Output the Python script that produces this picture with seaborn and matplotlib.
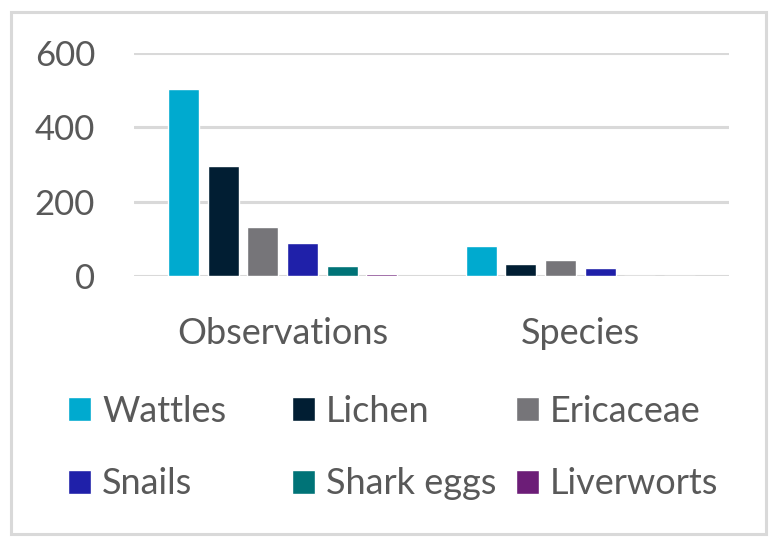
import numpy as np
import pandas as pd
import seaborn as sns
import matplotlib.pyplot as plt
from matplotlib.patches import Patch, Rectangle

categories = ["Observations", "Species"]
groups = ["Wattles", "Lichen", "Ericaceae", "Snails", "Shark eggs", "Liverworts"]
wattles = [502, 80]
lichen = [297, 32]
ericaceae = [131, 44]
snails = [89, 22]
shark_eggs = [28, 0]
liverworts = [5, 0]
yticks = [0, 200, 400, 600]

colors = ["#00AACF", "#011E33", "#767579", "#1F20A9", "#007377", "#6C1D77"]
text_col = "#595959"
grid_col = "#D9D9D9"

df = pd.DataFrame({
    "category": categories * len(groups),
    "group": np.repeat(groups, len(categories)),
    "count": wattles + lichen + ericaceae + snails + shark_eggs + liverworts,
})

sns.set_theme(style="white")
plt.rcParams["font.family"] = ["Lato", "DejaVu Sans"]

W, H = 777, 544
fig = plt.figure(figsize=(W / 100, H / 100), dpi=100)
ax = fig.add_axes([134 / W, 1 - 276.3 / H, 595 / W, 223.6 / H])

sns.barplot(data=df, x="category", y="count", hue="group", hue_order=groups,
            palette=colors, saturation=1, width=0.8, gap=0.22, ax=ax, legend=False)

ax.set_xlim(-0.5, 1.5)
ax.set_ylim(0, 600)
ax.set_yticks(yticks)
ax.set_xlabel("")
ax.set_ylabel("")
ax.yaxis.grid(True, color=grid_col, linewidth=2.2)
ax.set_axisbelow(True)
for s in ax.spines.values():
    s.set_visible(False)
ax.tick_params(axis="y", length=0, pad=28, labelsize=25, labelcolor=text_col)
ax.tick_params(axis="x", length=0, pad=29, labelsize=26, labelcolor=text_col)

# legend: three fixed-width columns like Excel
col_x = [68, 292, 516]
for i, x in enumerate(col_x):
    hs = [Patch(facecolor=colors[i]), Patch(facecolor=colors[i + 3])]
    ls = [groups[i], groups[i + 3]]
    fig.legend(hs, ls, loc="center left", bbox_to_anchor=(x / W, 1 - 447.5 / H),
               frameon=False, borderpad=0, borderaxespad=0, handlelength=0.64,
               handleheight=0.64, handletextpad=0.3, labelspacing=1.1,
               fontsize=26, labelcolor=text_col)

# chart border
fig.patches.append(Rectangle((10.5 / W, 10.5 / H), 755 / W, 522 / H,
                             transform=fig.transFigure, fill=False,
                             edgecolor=grid_col, linewidth=2.2))

fig.savefig("out.png", dpi=100, facecolor="white")
